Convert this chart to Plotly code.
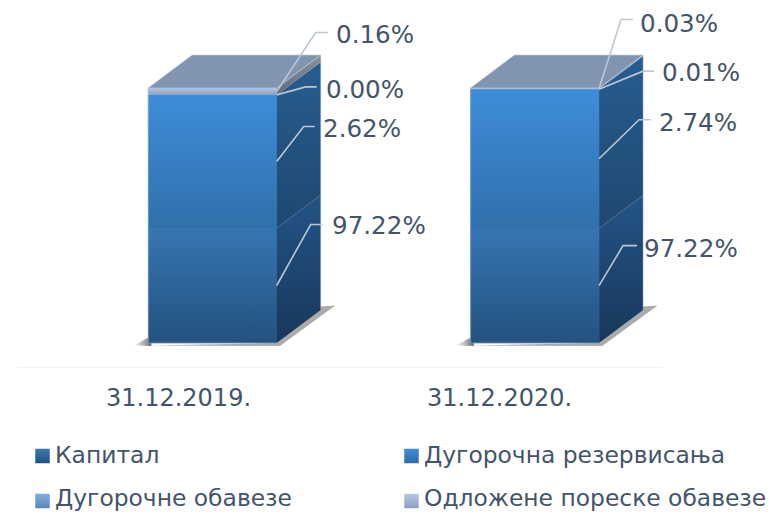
import plotly.graph_objects as go

# ---- data
categories = ["31.12.2019.", "31.12.2020."]
series_names = ["Капитал", "Дугорочна резервисања", "Дугорочне обавезе", "Одложене пореске обавезе"]
# printed labels (percent)
labels_2019 = ["97.22%", "2.62%", "0.00%", "0.16%"]
labels_2020 = ["97.22%", "2.74%", "0.01%", "0.03%"]
# segment heights as drawn on the chart's (non proportional) value axis
kapital = [45.1, 45.0]
rezervisanja = [52.2, 54.5]
obaveze = [0.0, 0.1]
odlozene = [2.7, 0.4]
series_values = [kapital, rezervisanja, obaveze, odlozene]

# ---- layout / style
W, H = 769, 512
ML, MR, MT, MB = 17, 106, 0, 145
PX_X = (W - ML - MR) / 2.0   # px per category
PX_Y = 2.55                  # px per value unit
Y_BASE_PX = 343
X_RANGE = [-0.5, 1.5]
Y_RANGE = [(Y_BASE_PX - (H - MB)) / PX_Y, (Y_BASE_PX - MT) / PX_Y]
FONT = "DejaVu Sans"
TXT = "#44546A"
BAR_X = [0.105, 1.103]
BAR_W = 0.398
DX, DY = 44 / PX_X, 33 / PX_Y

front_grad = [("#3775B3", "#23527F"), ("#3E8DD9", "#3070AC"), ("#7AA8DF", "#5F86B0"), ("#AEC5E8", "#8FA3BE")]
side_grad = [("#235486", "#18385A"), ("#285C90", "#1F4870"), ("#2A5C8E", "#2A5C8E"), ("#87949F", "#5F6B78")]
solid = ["#2C6399", "#377EC2", "#6C97C7", "#9FB4D3"]
legend_grad = [("#3A77B3", "#22527F"), ("#3E8DD9", "#2F6BA5"), ("#7FADE3", "#5F86B0"), ("#B5C8E8", "#8DA0BD")]
EDGE = "rgba(175,192,215,0.6)"
EDGE_BOTTOM = "rgba(125,145,170,0.9)"


def poly(xs, ys, grad=None, color=None, line=None, horizontal=False):
    kw = {}
    if grad:
        kw["fillgradient"] = dict(
            type="horizontal" if horizontal else "vertical",
            colorscale=[[0, grad[1] if not horizontal else grad[0]], [1, grad[0] if not horizontal else grad[1]]],
        )
    else:
        kw["fillcolor"] = color
    return go.Scatter(
        x=xs + xs[:1], y=ys + ys[:1], mode="lines", fill="toself",
        line=dict(width=0.8 if line else 0, color=line or "rgba(0,0,0,0)"),
        hoverinfo="skip", showlegend=False, cliponaxis=False, **kw)


def Y(px):
    return (Y_BASE_PX - px) / PX_Y


fig = go.Figure()

# real stacked bars (front faces)
for s, name in enumerate(series_names):
    fig.add_bar(x=BAR_X, y=series_values[s], width=BAR_W, name=name,
                marker=dict(color=solid[s], line=dict(width=0)), showlegend=False)

SH = 15 / PX_X   # width of the floor-shadow tip
for b, cx in enumerate(BAR_X):
    x0, x1 = cx - BAR_W / 2, cx + BAR_W / 2
    # floor shadow
    fig.add_trace(poly([x0 - SH, x0 + 0.01, x0 + 0.01], [Y(345.5), Y(336), Y(346)],
                       grad=("rgba(130,130,130,0)", "rgba(85,85,85,0.9)"), horizontal=True))
    fig.add_trace(poly([x0, x1 + 0.01, x1 + DX + 0.045, x1 + DX, x1],
                       [Y(345.5), Y(346), Y(305.5), Y(306.5), Y(343)],
                       color="rgba(115,115,115,0.6)"))
    bottom = 0.0
    for s in range(4):
        v = series_values[s][b]
        top = bottom + v
        if v > 0:
            # side face
            fig.add_trace(poly([x1, x1 + DX, x1 + DX, x1], [bottom, bottom + DY, top + DY, top], grad=side_grad[s]))
            # gradient over the front face of the bar
            fig.add_trace(poly([x0, x1, x1, x0], [bottom, bottom, top, top], grad=front_grad[s]))
        bottom = top
    # outlines
    fig.add_trace(go.Scatter(x=[x0, x0, x1], y=[0, bottom, bottom], mode="lines",
                             line=dict(color=EDGE, width=1.2), hoverinfo="skip", showlegend=False, cliponaxis=False))
    fig.add_trace(go.Scatter(x=[x0, x1], y=[0, 0], mode="lines",
                             line=dict(color=EDGE_BOTTOM, width=1.2), hoverinfo="skip", showlegend=False,
                             cliponaxis=False))
    fig.add_trace(go.Scatter(x=[x1 + DX, x1 + DX], y=[DY, bottom + DY], mode="lines",
                             line=dict(color="rgba(150,170,195,0.5)", width=1), hoverinfo="skip", showlegend=False))
    # top face
    fig.add_trace(poly([x0, x1, x1 + DX, x0 + DX], [bottom, bottom, bottom + DY, bottom + DY],
                       color="#8295B0", line="rgba(190,203,222,0.8)"))

# leader elbows and label starts, pixels relative to each anchor point: (dx1, dy1, dx2, label_x, label_y)
leaders_2019 = [(34, -61, 12, 332, 225), (27, -35, 11, 323, 128), (29, -8, 11, 326, 89), (39, -59, 12, 336, 34)]
leaders_2020 = [(24, -40, 14, 644, 248), (40, -39, 12, 659, 122), (44, -18, 11, 662, 72), (22, -69, 12, 640, 23)]
annos = []
for b, (labs, leads) in enumerate(zip([labels_2019, labels_2020], [leaders_2019, leaders_2020])):
    x1 = BAR_X[b] + BAR_W / 2
    bottom = 0.0
    for s in range(4):
        v = series_values[s][b]
        mid = bottom + v / 2
        bottom += v
        dx1, dy1, dx2, lx, ly = leads[s]
        ex, ey = x1 + dx1 / PX_X, mid - dy1 / PX_Y
        fig.add_trace(go.Scatter(x=[x1, ex, ex + dx2 / PX_X], y=[mid, ey, ey], mode="lines",
                                 line=dict(color="#BCC7D6", width=1.6), hoverinfo="skip",
                                 showlegend=False, cliponaxis=False))
        annos.append(dict(x=lx, y=ly, text=labs[s], xref="x2", yref="y2", showarrow=False,
                          xanchor="left", yanchor="middle", xshift=-2, font=dict(family=FONT, size=24.6, color=TXT)))

# legend (two columns), on a page-sized hidden pair of axes
legend_pos = [(42.5, 456), (411.5, 456), (42.5, 501), (411.5, 501)]
legend_text_y = [455, 455, 497.5, 497.5]
for s, name in enumerate(series_names):
    px, py = legend_pos[s]
    fig.add_trace(go.Scatter(x=[px], y=[py], xaxis="x2", yaxis="y2", mode="markers", showlegend=False,
                             hoverinfo="skip", marker=dict(symbol="square", size=14.5, color=legend_grad[s][0],
                                                           gradient=dict(type="vertical", color=legend_grad[s][1]),
                                                           line=dict(width=0))))
    annos.append(dict(x=px + 10.5, y=legend_text_y[s], text=name, xref="x2", yref="y2", showarrow=False,
                      xanchor="left", yanchor="middle", font=dict(family=FONT, size=23.4, color=TXT)))

fig.update_layout(
    width=W, height=H, margin=dict(l=0, r=0, t=0, b=0, pad=0),
    paper_bgcolor="white", plot_bgcolor="rgba(0,0,0,0)", barmode="stack", showlegend=False,
    annotations=annos, font=dict(family=FONT, color=TXT),
    xaxis=dict(domain=[ML / W, (W - MR) / W], range=X_RANGE, tickmode="array", tickvals=[0, 0.994],
               ticktext=categories, showgrid=False, anchor="y",
               zeroline=False, showline=True, linecolor="#EEF1F5", linewidth=1, ticks="outside", ticklen=9,
               tickcolor="rgba(0,0,0,0)", tickfont=dict(family=FONT, size=24, color=TXT)),
    yaxis=dict(domain=[MB / H, 1], range=Y_RANGE, visible=False, anchor="x"),
    xaxis2=dict(domain=[0, 1], range=[0, W], visible=False, anchor="y2"),
    yaxis2=dict(domain=[0, 1], range=[H, 0], visible=False, anchor="x2"),
)
fig.write_html("out.html", config={"displayModeBar": False},
               post_script="document.body.style.margin='0';document.documentElement.style.overflow='hidden';")
